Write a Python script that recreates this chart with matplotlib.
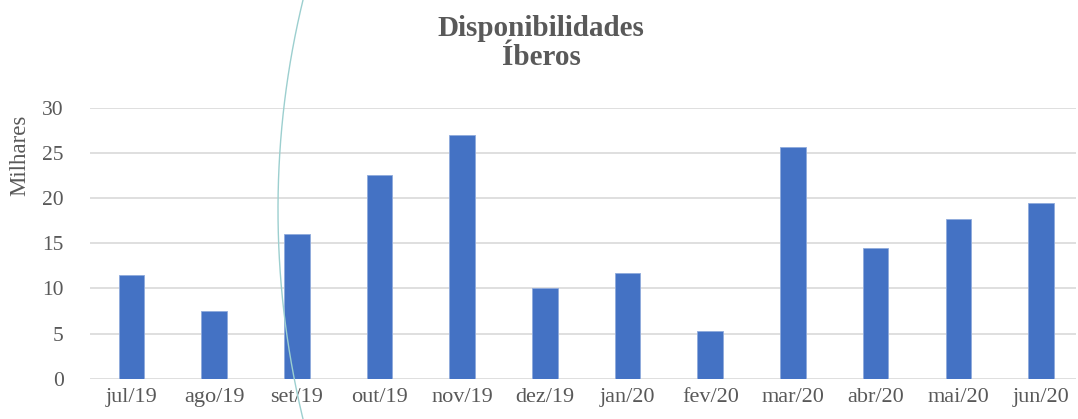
import numpy as np
import matplotlib
matplotlib.use("Agg")
import matplotlib.pyplot as plt
from matplotlib.lines import Line2D

# Disponibilidades - Iberos (milhares)
meses = ["jul/19", "ago/19", "set/19", "out/19", "nov/19", "dez/19",
         "jan/20", "fev/20", "mar/20", "abr/20", "mai/20", "jun/20"]
valores = [11.5, 7.5, 16.0, 22.5, 27.0, 10.0, 11.7, 5.3, 25.6, 14.5, 17.7, 19.4]
yticks = [0, 5, 10, 15, 20, 25, 30]

plt.rcParams['font.family'] = ['Liberation Serif', 'DejaVu Serif']
cinza = '#595959'

W, H = 1078, 419
fig = plt.figure(figsize=(W / 100, H / 100), dpi=100)
ax = fig.add_axes([90 / W, 40.3 / H, 986 / W, (378.7 - 107.7) / H])

x = np.arange(len(meses))
ax.bar(x, valores, width=0.31, color='#4472C4', edgecolor='#8FAADC', linewidth=0.6, zorder=3)

ax.set_xlim(-0.5, (986 / 82.7) - 0.5)
ax.set_ylim(0, 30)
ax.set_yticks(yticks)
ax.set_xticks(x)
ax.set_xticklabels(meses)
ax.grid(axis='y', color='#D9D9D9', linewidth=1.2, zorder=0)
for s in ax.spines.values():
    s.set_visible(False)
ax.tick_params(axis='x', length=0, labelsize=16, colors=cinza, pad=7)
ax.tick_params(axis='y', length=0, labelsize=15.5, colors=cinza, pad=19)

fig.text(20 / W, 1 - 155 / H, 'Milhares', rotation=90, ha='center', va='center',
         fontsize=16.5, color=cinza)
fig.text(541 / W, 1 - 43 / H, 'Disponibilidades\nÍberos', ha='center', va='center',
         fontsize=21, fontweight='bold', color=cinza, linespacing=1.05)

# arco decorativo
t = np.linspace(-0.245, 0.245, 200)
cx, cy, R = 1168, 209.5, 890
px = cx - R * np.cos(t)
py = cy + R * np.sin(t)
fig.add_artist(Line2D(px / W, 1 - py / H, transform=fig.transFigure,
                      color='#9CCFCF', linewidth=1.0, zorder=5))

fig.savefig('out.png', dpi=100)
